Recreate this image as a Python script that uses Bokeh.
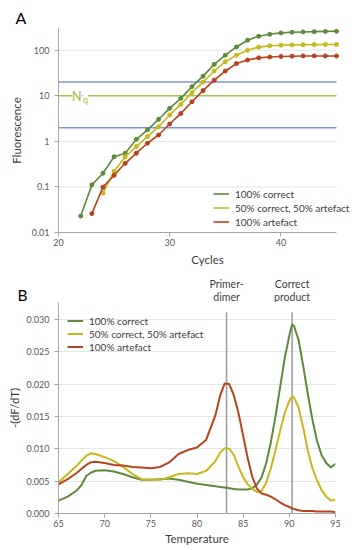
from bokeh.plotting import figure
from bokeh.models import (Legend, LegendItem, Label, FixedTicker,
                          CustomJSTickFormatter, PrintfTickFormatter, Range1d)
from bokeh.layouts import column
from bokeh.embed import file_html
from bokeh.resources import INLINE
from bokeh.core.properties import value

# ---------------- Panel A data: amplification curves ----------------
cycles_correct = list(range(22, 46))
fluor_correct = [0.023, 0.111, 0.20, 0.46, 0.55, 1.11, 1.79, 3.05, 5.3, 8.8, 15.9, 27,
                 49, 78, 118, 166, 203, 224, 240, 248, 252, 256, 259, 261]
cycles_mixed = list(range(24, 46))
fluor_mixed = [0.073, 0.22, 0.46, 0.77, 1.27, 2.1, 3.8, 6.5, 11.7, 20, 35, 56, 78, 100,
               117, 125, 129, 131, 132, 133, 134, 134]
cycles_artefact = list(range(23, 46))
fluor_artefact = [0.026, 0.099, 0.18, 0.33, 0.55, 0.91, 1.38, 2.4, 4.1, 7.4, 13, 22, 35,
                  51, 61, 68, 71, 73, 74, 75, 75, 75, 75]
threshold_window = [2, 20]
nq_level = 10
a_cycle_span = (20, 45)
a_yticks = [0.01, 0.1, 1, 10, 100]
a_xticks = [20, 30, 40]
series_names = ["100% correct", "50% correct, 50% artefact", "100% artefact"]

# ---------------- Panel B data: melt curves ----------------
temperature = [65, 66, 67, 67.5, 68, 68.5, 69, 70, 71, 72, 73, 74, 75, 76, 77, 78, 79, 80,
               81, 82, 82.5, 83, 83.5, 84, 84.5, 85, 85.5, 86, 86.5, 87, 87.5, 88, 88.5, 89,
               89.5, 90, 90.3, 90.5, 91, 91.5, 92, 92.5, 93, 93.5, 94, 94.5, 95]
dfdt_correct = [0.0020, 0.0026, 0.0036, 0.0044, 0.0058, 0.0063, 0.0066,
                0.0067, 0.0065, 0.0061, 0.0056, 0.0052, 0.0052, 0.0053, 0.0054, 0.0052,
                0.0049, 0.0046, 0.0044, 0.0042,
                0.0041, 0.0040, 0.0039, 0.0038, 0.0037, 0.0037, 0.0037, 0.0039, 0.0045,
                0.0056, 0.0078, 0.0110, 0.0150, 0.0195, 0.0240, 0.0275,
                0.0292,
                0.0290, 0.0268, 0.0228, 0.0185, 0.0145, 0.0112, 0.0090, 0.0078, 0.0071, 0.0077]
dfdt_mixed = [0.0048, 0.0061, 0.0074, 0.0082, 0.0089, 0.0093, 0.0092,
              0.0087, 0.0081, 0.0072, 0.0061, 0.0053, 0.0052, 0.0052, 0.0056, 0.0061,
              0.0062, 0.0061, 0.0066, 0.0081,
              0.0094, 0.0101, 0.0100, 0.0090, 0.0072, 0.0056, 0.0045, 0.0038, 0.0033,
              0.0035, 0.0048, 0.0070, 0.0098, 0.0128, 0.0155, 0.0174,
              0.0181,
              0.0179, 0.0164, 0.0133, 0.0097, 0.0070, 0.0051, 0.0036, 0.0026, 0.0020, 0.0021]
dfdt_artefact = [0.0045, 0.0053, 0.0063, 0.0069, 0.0075, 0.0079, 0.0080,
                 0.0078, 0.0075, 0.0074, 0.0072, 0.0071, 0.0070, 0.0072, 0.0079, 0.0092,
                 0.0098, 0.0102, 0.0114, 0.0152,
                 0.0182, 0.0201, 0.0200, 0.0182, 0.0155, 0.0120, 0.0085, 0.0056, 0.0038,
                 0.0031, 0.0029, 0.0026, 0.0022, 0.0017, 0.0013, 0.0010,
                 0.0008,
                 0.0007, 0.0005, 0.0004, 0.0004, 0.0004, 0.0003, 0.0003, 0.0003, 0.0003, 0.0002]
melt_peaks = [83.2, 90.3]
melt_peak_line1 = ["Primer-", "Correct"]
melt_peak_line2 = ["dimer", "product"]
melt_line_top = 0.0311
b_xticks = [65, 70, 75, 80, 85, 90, 95]
b_yticks = [0.0, 0.005, 0.010, 0.015, 0.020, 0.025, 0.030]

# ---------------- styling / geometry ----------------
FONT = "Lato"
GREEN = "#5E8A3A"
YELLOW = "#C8B81C"
RED = "#B8421C"
BLUE = "#8094DA"
NQ_GREEN = "#9CCB4E"
NQ_TEXT = "#A8B94A"
AXIS_GRAY = "#A6A6A6"
TEXT_GRAY = "#595959"
LABEL_GRAY = "#404040"
GRID_GRAY = "#E6E6E6"

W = 356
LEFT = 58
RIGHT_A = 20      # gap between x=45 and the page edge in panel A
RIGHT_B = 21


def no_align(p):
    if "frame_align" in p.properties():
        p.frame_align = False


def style_axes(p):
    for ax in (p.xaxis[0], p.yaxis[0]):
        ax.axis_line_color = AXIS_GRAY
        ax.major_tick_line_color = AXIS_GRAY
        ax.minor_tick_line_color = None
        ax.major_tick_in = 0
        ax.major_tick_out = 4
        ax.major_label_text_font = FONT
        ax.major_label_text_font_size = "9px"
        ax.major_label_text_color = TEXT_GRAY
        ax.axis_label_text_font = FONT
        ax.axis_label_text_font_size = "11.5px"
        ax.axis_label_text_font_style = "normal"
        ax.axis_label_text_color = LABEL_GRAY
    p.xgrid.grid_line_color = None
    p.ygrid.grid_line_color = GRID_GRAY
    p.outline_line_color = None
    no_align(p)


def header(height, x_range):
    h = figure(width=W, height=height, x_range=x_range, y_range=Range1d(0, height),
               output_backend="svg", toolbar_location=None,
               x_axis_location=None, y_axis_location=None,
               min_border=0, min_border_left=0, min_border_right=0,
               min_border_top=0, min_border_bottom=0)
    h.xgrid.grid_line_color = None
    h.ygrid.grid_line_color = None
    h.outline_line_color = None
    no_align(h)
    return h


# ---------------- header A ----------------
ha = header(28, Range1d(0, W))
ha.text(x=[15], y=[11], text=["A"], text_font=value(FONT), text_font_size="16px",
        text_color="black", text_baseline="middle", text_align="left")

# ---------------- Panel A ----------------
# frame runs to the page edge so the legend text is not clipped; axis bounded to 20..45
ka = (a_cycle_span[1] - a_cycle_span[0]) / (W - LEFT - RIGHT_A)
pa = figure(width=W, height=242, y_axis_type="log",
            x_range=Range1d(a_cycle_span[0], a_cycle_span[1] + RIGHT_A * ka),
            y_range=Range1d(0.01, 300),
            output_backend="svg", toolbar_location=None,
            min_border_left=LEFT, min_border_right=0, min_border_top=0,
            min_border_bottom=38)
style_axes(pa)
pa.ygrid.grid_line_color = None
pa.xaxis.bounds = a_cycle_span
pa.xaxis.ticker = FixedTicker(ticks=a_xticks)
pa.yaxis.ticker = FixedTicker(ticks=a_yticks)
pa.yaxis.formatter = CustomJSTickFormatter(code="return String(tick);")
pa.xaxis.axis_label = "Cycles"
pa.yaxis.axis_label = "Fluorescence"
pa.xaxis.major_label_standoff = 2
pa.xaxis.axis_label_standoff = 4
pa.yaxis.major_label_standoff = 5
pa.yaxis.axis_label_standoff = 6

grid_levels = a_yticks[1:]
pa.segment(x0=[a_cycle_span[0]] * len(grid_levels), x1=[a_cycle_span[1]] * len(grid_levels),
           y0=grid_levels, y1=grid_levels, line_color=GRID_GRAY, line_width=1)
pa.segment(x0=[a_cycle_span[0]] * 2, x1=[a_cycle_span[1]] * 2,
           y0=threshold_window, y1=threshold_window, line_color=BLUE, line_width=1.5)
pa.segment(x0=[a_cycle_span[0]], x1=[a_cycle_span[1]], y0=[nq_level], y1=[nq_level],
           line_color=NQ_GREEN, line_width=1.5)
pa.add_layout(Label(x=21.2, y=nq_level, text="N", text_font=FONT, text_font_size="13px",
                    text_color=NQ_TEXT, text_baseline="middle",
                    background_fill_color="white", background_fill_alpha=1.0))
pa.add_layout(Label(x=22.2, y=nq_level, y_offset=-4, text="q", text_font=FONT,
                    text_font_size="9px", text_color=NQ_TEXT, text_baseline="middle",
                    background_fill_color="white", background_fill_alpha=1.0))

a_items = []
for xs, ys, col, name in [(cycles_correct, fluor_correct, GREEN, series_names[0]),
                          (cycles_mixed, fluor_mixed, YELLOW, series_names[1]),
                          (cycles_artefact, fluor_artefact, RED, series_names[2])]:
    r = pa.line(xs, ys, line_color=col, line_width=1.6)
    pa.scatter(xs, ys, size=4, color=col)
    a_items.append(LegendItem(label=name, renderers=[r]))

leg_a = Legend(items=a_items, location=(155, 4), padding=0, margin=0, spacing=1,
               glyph_width=16, glyph_height=13, label_height=13, label_standoff=6,
               label_text_font=FONT, label_text_font_size="10px", label_text_color=LABEL_GRAY,
               border_line_color=None, background_fill_alpha=0)
pa.add_layout(leg_a, "center")

# ---------------- header B ----------------
kb = 30.0 / (W - LEFT - RIGHT_B)
hb = header(32, Range1d(65 - LEFT * kb, 95 + RIGHT_B * kb))
hb.text(x=melt_peaks, y=[19, 19], text=melt_peak_line1, text_font=value(FONT),
        text_font_size="10.5px", text_color=LABEL_GRAY, text_align="center",
        text_baseline="middle")
hb.text(x=melt_peaks, y=[6, 6], text=melt_peak_line2, text_font=value(FONT),
        text_font_size="10.5px", text_color=LABEL_GRAY, text_align="center",
        text_baseline="middle")
hb.text(x=[65 - (LEFT - 17) * kb], y=[8], text=["B"], text_font=value(FONT),
        text_font_size="15.5px", text_color="black", text_align="left",
        text_baseline="middle")

# ---------------- Panel B ----------------
pb = figure(width=W, height=246,
            x_range=Range1d(65, 95), y_range=Range1d(0, 0.0326),
            output_backend="svg", toolbar_location=None,
            min_border_left=LEFT, min_border_right=RIGHT_B, min_border_top=0,
            min_border_bottom=35)
style_axes(pb)
pb.xaxis.ticker = FixedTicker(ticks=b_xticks)
pb.yaxis.ticker = FixedTicker(ticks=b_yticks)
pb.yaxis.formatter = PrintfTickFormatter(format="%.3f")
pb.xaxis.axis_label = "Temperature"
pb.yaxis.axis_label = "-(dF/dT)"
pb.xaxis.major_label_standoff = 2
pb.xaxis.axis_label_standoff = 2
pb.yaxis.major_label_standoff = 5
pb.yaxis.axis_label_standoff = 2

pb.segment(x0=melt_peaks, y0=[0, 0], x1=melt_peaks, y1=[melt_line_top] * len(melt_peaks),
           line_color="#A0A0A0", line_width=1.6)

b_items = []
for ys, col, name in [(dfdt_correct, GREEN, series_names[0]),
                      (dfdt_mixed, YELLOW, series_names[1]),
                      (dfdt_artefact, RED, series_names[2])]:
    r = pb.line(temperature, ys, line_color=col, line_width=2)
    b_items.append(LegendItem(label=name, renderers=[r]))

leg_b = Legend(items=b_items, location=(9, 160), padding=0, margin=0, spacing=0,
               glyph_width=16, glyph_height=13, label_height=13, label_standoff=6,
               label_text_font=FONT, label_text_font_size="10px", label_text_color=LABEL_GRAY,
               border_line_color=None, background_fill_alpha=0)
pb.add_layout(leg_b, "center")

layout = column(ha, pa, hb, pb, spacing=0)
open("out.html", "w").write(file_html(layout, INLINE))
